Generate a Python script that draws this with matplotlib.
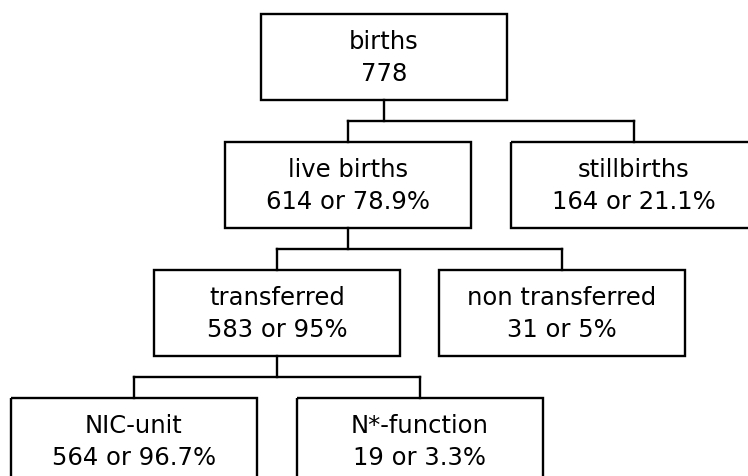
import matplotlib
matplotlib.use("Agg")
import matplotlib.pyplot as plt
from matplotlib.patches import Rectangle

# Datos del árbol
etiquetas = ["births", "live births", "stillbirths", "transferred",
             "non transferred", "NIC-unit", "N*-function"]
conteos = [778, 614, 164, 583, 31, 564, 19]
porcentajes = [None, "78.9", "21.1", "95", "5", "96.7", "3.3"]
padres = [None, 0, 0, 1, 1, 3, 3]
niveles = [0, 1, 1, 2, 2, 3, 3]

# Disposición (en píxeles de la figura)
centros_x = [384, 348, 634, 277, 562, 134, 420]
tope_nivel = [14, 142, 270, 398]
ancho, alto = 245.5, 85.5
lw = 1.7

fig = plt.figure(figsize=(7.48, 4.76), dpi=100)
ax = fig.add_axes([0, 0, 1, 1])
ax.set_xlim(0, 748)
ax.set_ylim(476, 0)
ax.axis("off")

for i, nombre in enumerate(etiquetas):
    cx = centros_x[i]
    top = tope_nivel[niveles[i]]
    ax.add_patch(Rectangle((cx - ancho / 2, top), ancho, alto,
                           fill=False, edgecolor="black", linewidth=lw))
    valor = str(conteos[i])
    if porcentajes[i] is not None:
        valor += " or " + porcentajes[i] + "%"
    cy = top + alto / 2
    ax.text(cx, cy - 7.5, nombre, ha="center", va="baseline",
            fontsize=17.5, family="DejaVu Sans")
    ax.text(cx, cy + 23.8, valor, ha="center", va="baseline",
            fontsize=17.5, family="DejaVu Sans")

# Conectores
for p in sorted(set(x for x in padres if x is not None)):
    hijos = [i for i, q in enumerate(padres) if q == p]
    abajo = tope_nivel[niveles[p]] + alto
    arriba = tope_nivel[niveles[hijos[0]]]
    medio = (abajo + arriba) / 2
    xs = [centros_x[h] for h in hijos]
    ax.plot([centros_x[p], centros_x[p]], [abajo, medio], color="black", lw=lw)
    ax.plot([min(xs), max(xs)], [medio, medio], color="black", lw=lw,
            solid_capstyle="projecting")
    for x in xs:
        ax.plot([x, x], [medio, arriba], color="black", lw=lw)

fig.savefig("out.png", dpi=100)
